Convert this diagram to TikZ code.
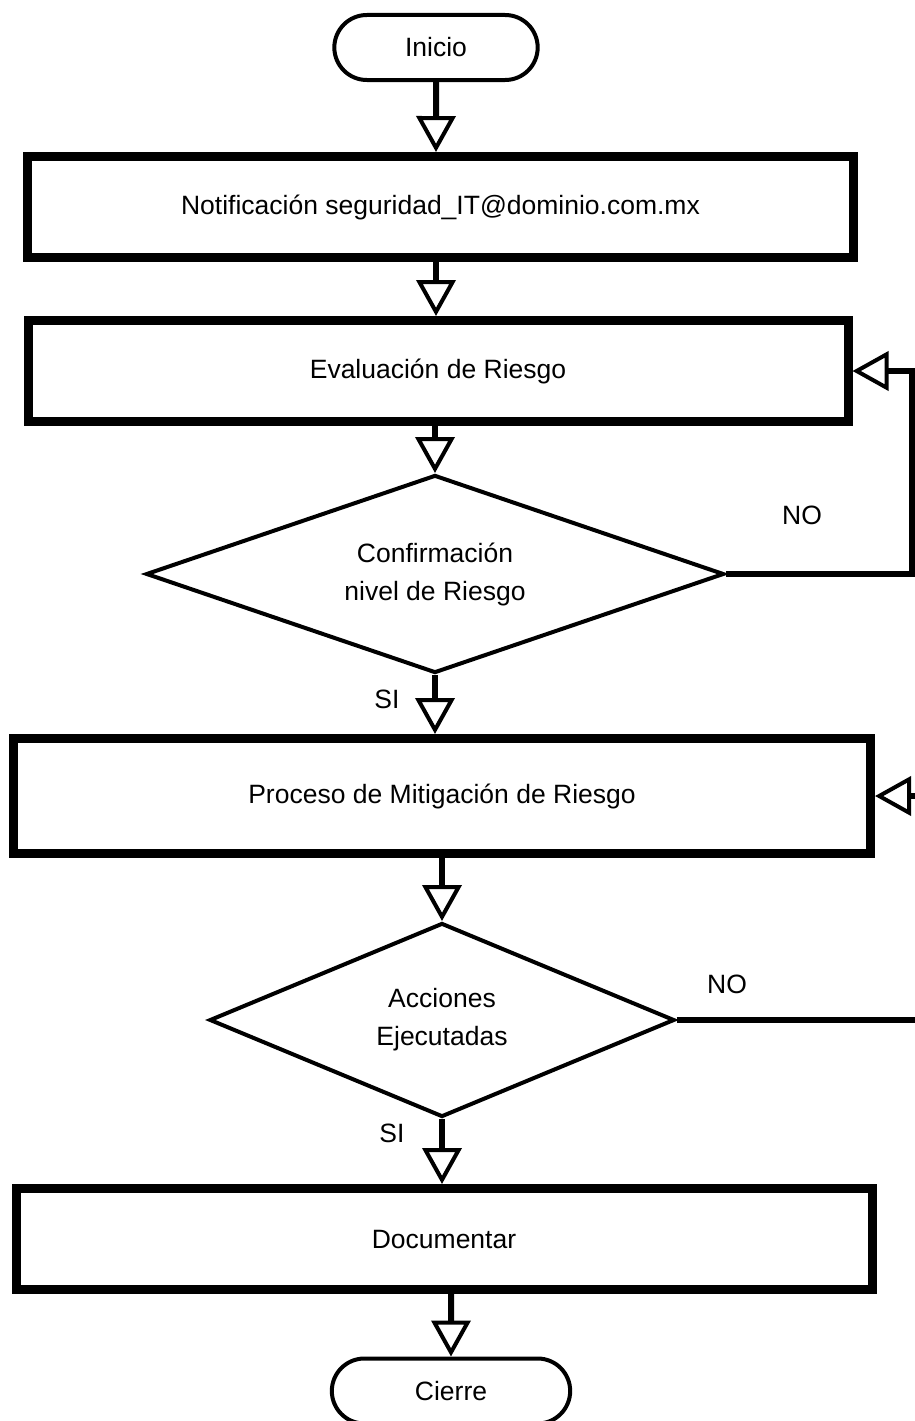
\documentclass[tikz,border=0pt]{standalone}
\usepackage{fontspec}
\setmainfont{Liberation Sans}
\usetikzlibrary{arrows.meta,shapes.geometric,shapes.misc}
\tikzset{
    caja/.style =     {rectangle,
                      fill=white,
                      draw=black,
                      text=black,
                      line width=9pt,
                      inner sep=0pt},
    terminal/.style = {rounded rectangle,
                      fill=white,
                      draw=black,
                      text=black,
                      line width=4pt,
                      minimum height=65pt},
    decision/.style = {diamond,
                      fill=white,
                      draw=black,
                      text=black,
                      line width=4pt,
                      aspect=2.9,
                      inner sep=0pt,
                      align=center},
    etiqueta/.style = {inner sep=0pt,
                      text=black},
    -,
    flecha/.style =   {line width=6pt,
                      ->},
    >={Triangle[open,line width=4pt,length=36pt,width=39pt]},
    x=1pt, y=-1pt}

\begin{document}
\begin{tikzpicture}[font=\fontsize{26.5}{38}\selectfont]
    \useasboundingbox (0,0) rectangle (914,1421);
    % cajas y decisiones
    \node[terminal, minimum width=210pt]                        (inicio)    at (436,47.5)  {Inicio};
    \node[caja, minimum width=826pt, minimum height=101pt]      (notif)     at (440.5,207) {Notificación seguridad\_IT@dominio.com.mx};
    \node[caja, minimum width=820pt, minimum height=101pt]      (evalua)    at (438,371)   {Evaluación de Riesgo};
    \node[decision, minimum width=578pt, minimum height=198pt]  (confirma)  at (435,574)   {Confirmación\\nivel de Riesgo};
    \node[caja, minimum width=857pt, minimum height=115pt]      (mitiga)    at (442,796)   {Proceso de Mitigación de Riesgo};
    \node[decision, minimum width=465pt, minimum height=194pt]  (acciones)  at (442,1020)  {Acciones\\Ejecutadas};
    \node[caja, minimum width=856pt, minimum height=101pt]      (documenta) at (444,1239)  {Documentar};
    \node[terminal, minimum width=245pt]                        (cierre)    at (451,1391)  {Cierre};
    % etiquetas
    \node[etiqueta] (si1) at (387,699)  {SI};
    \node[etiqueta] (no1) at (802,515)  {NO};
    \node[etiqueta] (si2) at (392,1133) {SI};
    \node[etiqueta] (no2) at (727,984)  {NO};
    % lazos
    \coordinate (lazoA) at (912,574);
    \coordinate (lazoB) at (935,1020);
    % flechas
    \path [flecha]  (inicio)                    edge []  (inicio |- notif.north)
                    (inicio |- notif.south)     edge []  (inicio |- evalua.north)
                    (confirma |- evalua.south)  edge []  (confirma)
                    (confirma)                  edge []  (confirma |- mitiga.north)
                    (acciones |- mitiga.south)  edge []  (acciones)
                    (acciones)                  edge []  (acciones |- documenta.north)
                    (cierre |- documenta.south) edge []  (cierre);
    \draw [flecha]  (confirma.east) -- (lazoA) |- (evalua.east);
    \draw [flecha]  (acciones.east) -- (lazoB) |- (mitiga.east);
\end{tikzpicture}
\end{document}
